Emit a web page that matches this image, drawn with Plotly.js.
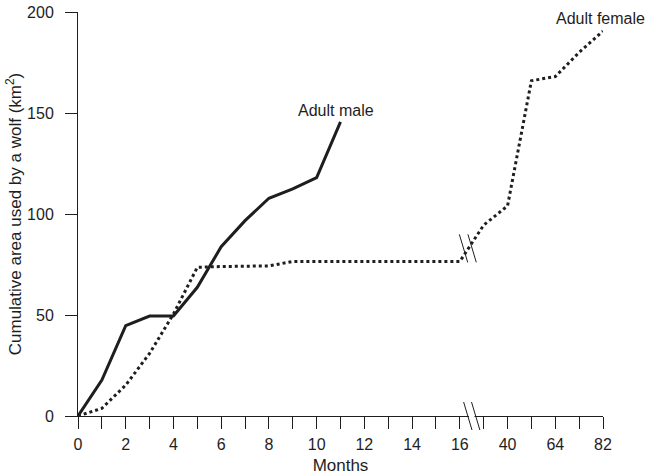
<!DOCTYPE html>
<html>
<head>
<meta charset="utf-8">
<script src="https://cdn.plot.ly/plotly-3.0.1.min.js"></script>
<style>html,body{margin:0;padding:0;background:#fff;}#chart{width:650px;height:475px;}</style>
</head>
<body>
<div id="chart"></div>
<script>
// Axis positions: 0..16 are months; after the break, positions 18, 20, 22 stand for months 40, 64, 82
const tickPositions = [0,1,2,3,4,5,6,7,8,9,10,11,12,13,14,15,16,17,18,19,20,21,22];
const tickLabels    = ['0','','2','','4','','6','','8','','10','','12','','14','','16','','40','','64','','82'];

const maleX    = [0,1,2,3,4,5,6,7,8,9,10,11];
const maleArea = [0,17.8,44.7,49.5,49.5,63.7,83.8,96.7,107.8,112.4,118,145.6];

const femaleX    = [0,1,2,3,4,5,6,7,8,9,10,11,12,13,14,15,16,17,18,19,20,21,22];
const femaleArea = [0,3.8,15.3,31,50.5,73.6,74,74,74.3,76.5,76.5,76.5,76.5,76.5,76.5,76.5,76.5,94.5,104,166,168,180,190.5];

const yTicks = [0,50,100,150,200];
const breakPos = 16.5;   // where the axis is broken
const xMax = 22;

const ink = '#1e1e1e';
const fam = '"Liberation Sans", Arial, sans-serif';
const tickFont = {family:fam, size:16, color:ink};

const traces = [
  {x:maleX, y:maleArea, mode:'lines', name:'Adult male',
   line:{color:ink, width:3}, cliponaxis:false},
  {x:femaleX, y:femaleArea, mode:'lines', name:'Adult female',
   line:{color:ink, width:3, dash:'dot'}, cliponaxis:false}
];

const bx = breakPos / xMax;
const dxp = 0.165 / xMax;     // half gap between slashes (paper units)
const slantX = 0.175 / xMax;  // half horizontal extent of a slash
const hY = 14 / 404;          // half vertical extent of a slash
function slash(cx, cy) {
  return {type:'line', xref:'paper', yref:'paper', layer:'above',
          x0:cx - slantX, x1:cx + slantX, y0:cy + hY, y1:cy - hY,
          line:{color:ink, width:1}};
}
const lineBreakY = 83 / 200;
const shapes = [
  {type:'line', xref:'paper', yref:'paper', layer:'above',
   x0:bx - dxp + 0.05/xMax, x1:bx + dxp - 0.05/xMax, y0:0, y1:0,
   line:{color:'#ffffff', width:3}},
  slash(bx - dxp, 0), slash(bx + dxp, 0),
  slash(bx - dxp - 0.18/xMax, lineBreakY), slash(bx + dxp - 0.15/xMax, lineBreakY)
];

const layout = {
  width:650, height:475,
  margin:{l:78, r:47, t:12, b:59},
  paper_bgcolor:'#ffffff', plot_bgcolor:'#ffffff',
  showlegend:false,
  font:tickFont,
  xaxis:{range:[0, xMax], showgrid:false, zeroline:false,
         showline:true, linecolor:ink, linewidth:1,
         tickmode:'array', tickvals:tickPositions, ticktext:tickLabels,
         ticks:'outside', ticklen:12, tickwidth:1, tickcolor:ink,
         ticklabelstandoff:2,
         tickfont:tickFont,
         title:{text:'Months', font:{family:fam, size:17, color:ink}, standoff:6}},
  yaxis:{range:[0, 200], showgrid:false, zeroline:false,
         showline:true, linecolor:ink, linewidth:1,
         tickmode:'array', tickvals:yTicks,
         ticks:'outside', ticklen:12, tickwidth:1, tickcolor:ink,
         ticklabelstandoff:8,
         tickfont:tickFont,
         title:{text:'Cumulative area used by a wolf (km<sup>2</sup>)', font:{family:fam, size:17, color:ink}}},
  shapes:shapes,
  annotations:[
    {text:'Adult male', xref:'x', yref:'y', x:10.8, y:151, showarrow:false,
     font:{family:fam, size:16, color:ink}},
    {text:'Adult female', xref:'x', yref:'y', x:21.9, y:197, showarrow:false,
     font:{family:fam, size:16, color:ink}}
  ]
};

Plotly.newPlot('chart', traces, layout, {displayModeBar:false, staticPlot:true});
</script>
</body>
</html>
